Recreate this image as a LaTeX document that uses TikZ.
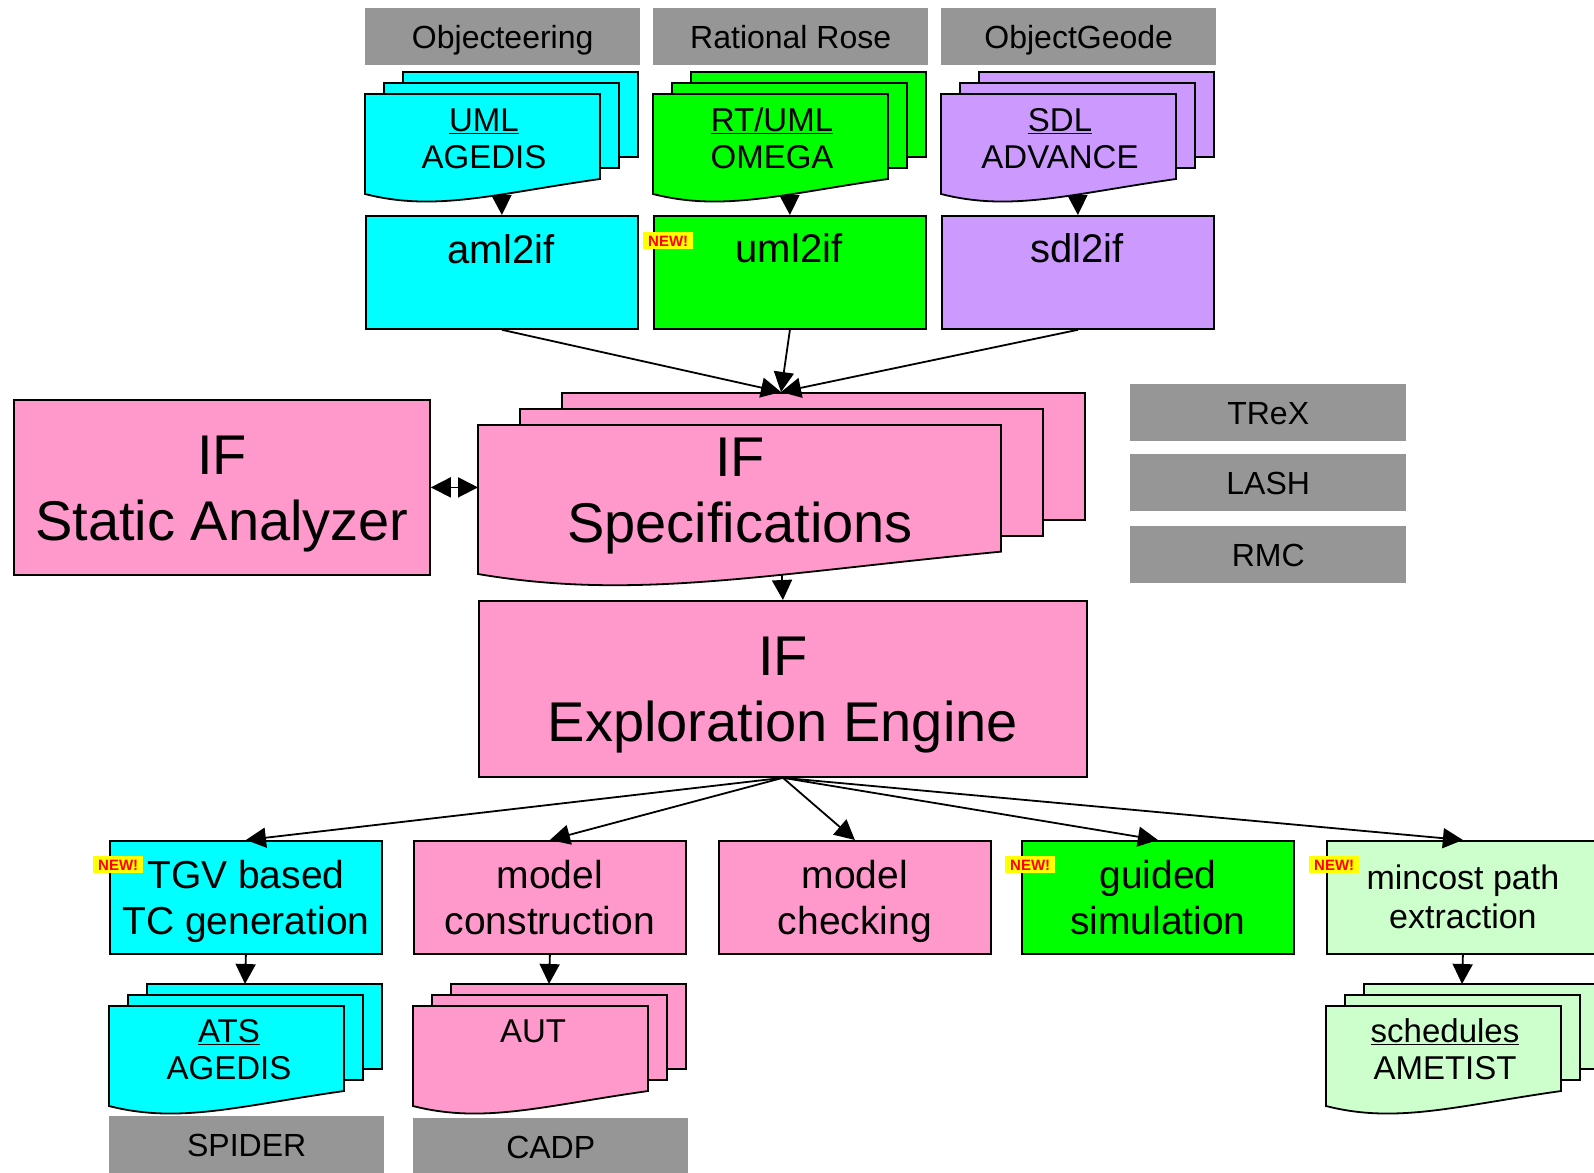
\documentclass[tikz,border=0pt]{standalone}
\usepackage{fontspec}
\setmainfont{Liberation Sans}
\usetikzlibrary{arrows.meta,calc}
\definecolor{cyanc}{HTML}{00FFFF}
\definecolor{greenc}{HTML}{00FF00}
\definecolor{lavc}{HTML}{CC99FF}
\definecolor{pinkc}{HTML}{FF99CC}
\definecolor{lgreenc}{HTML}{CCFFCC}
\definecolor{grayc}{HTML}{969696}
\definecolor{badgey}{HTML}{FFFF00}
\definecolor{badger}{HTML}{FF0000}
\newcommand{\szbig}{\fontsize{56}{66}\selectfont}
\newcommand{\szbox}{\fontsize{39}{46}\selectfont}
\newcommand{\szmin}{\fontsize{34}{39}\selectfont}
\newcommand{\sztool}{\fontsize{40}{48}\selectfont}
\newcommand{\szdoc}{\fontsize{33}{37}\selectfont}
\newcommand{\szgray}{\fontsize{32}{38}\selectfont}
\newcommand{\szbadge}{\fontsize{15}{15}\selectfont}
% x y W H dx dy color
\newcommand{\docstack}[7]{%
  \foreach \k in {2,1}{\draw[docline,fill=#7] ({#1+\k*#5},{#2+\k*#6}) rectangle ++(#3,{0.85*#4});}
  \draw[docline,fill=#7] (#1,#2) -- ++(#3,0) -- ++(0,{0.85*#4}) .. controls ({#1+0.55*#3},{#2+#4}) and ({#1+0.3*#3},{#2+1.18*#4}) .. (#1,{#2+#4}) -- cycle;}
\begin{document}
\begin{tikzpicture}[x=1pt,y=-1pt,line join=miter,
  box/.style={draw=black,line width=1.8pt,minimum width=272pt,minimum height=113pt,anchor=north west,inner sep=0pt,align=center},
  bigtext/.style={font=\szbig,text height=40pt,text depth=0pt},
  bigtwo/.style={font=\szbig,text height=106pt,text depth=0pt},
  boxtext/.style={font=\szbox,text height=74pt,text depth=0pt},
  mintext/.style={font=\szmin,text height=63pt,text depth=0pt},
  graybox/.style={fill=grayc,minimum width=275pt,minimum height=57pt,anchor=north west,inner sep=0pt,font=\szgray,text height=23pt,text depth=0pt},
  docline/.style={draw=black,line width=1.8pt},
  arr/.style={line width=1.8pt,-{Triangle[width=20pt,length=20pt]}},
  dblarr/.style={line width=1.8pt,{Triangle[width=20pt,length=20pt]}-{Triangle[width=20pt,length=20pt]}},
  newbadge/.style={fill=badgey,text=badger,font=\bfseries\szbadge,inner sep=0pt,anchor=north west,minimum width=50pt,minimum height=17pt,text height=11pt,text depth=0pt},
  lbl/.style={inner sep=0pt,align=center,text depth=0pt},
  doctext/.style={lbl,font=\szdoc,text height=24pt},
  tooltext/.style={lbl,font=\sztool,text height=29pt}]
\clip (0,0) rectangle (1594,1172);
\fill[white] (0,0) rectangle (1594,1172);

% headers
\node[graybox] (hobj) at (365,8) {Objecteering};
\node[graybox] (hrat) at (653,8) {Rational Rose};
\node[graybox] (hgeo) at (941,8) {ObjectGeode};

% translators
\node[box,fill=cyanc] (aml) at (365,215) {};
\node[box,fill=greenc] (uml) at (653,215) {};
\node[box,fill=lavc] (sdl) at (941,215) {};
\node[tooltext] (amlt) at (501,249) {aml2if};
\node[tooltext] (umlt) at (789,248) {uml2if};
\node[tooltext] (sdlt) at (1077,248) {sdl2if};

\coordinate (d1) at (501,170);
\coordinate (d2) at (789,170);
\coordinate (d3) at (1077,170);
\draw[arr] (d1) -- (aml.north);
\draw[arr] (d2) -- (uml.north);
\draw[arr] (d3) -- (sdl.north);

% source documents
\docstack{365}{94}{235}{100}{19}{-11}{cyanc}
\docstack{653}{94}{235}{100}{19}{-11}{greenc}
\docstack{941}{94}{235}{100}{19}{-11}{lavc}
\node[doctext] (t1a) at (484,119) {\underline{UML}};
\node[doctext] (t1b) at (484,156) {AGEDIS};
\node[doctext] (t2a) at (772,119) {\underline{RT/UML}};
\node[doctext] (t2b) at (772,156) {OMEGA};
\node[doctext] (t3a) at (1060,119) {\underline{SDL}};
\node[doctext] (t3b) at (1060,156) {ADVANCE};

\node[newbadge] (new1) at (643,232) {NEW!};

% middle
\node[box,fill=pinkc,minimum width=416pt,minimum height=175pt,bigtwo] (sa) at (13,399) {IF\\Static Analyzer};
\node[box,fill=pinkc,minimum width=608pt,minimum height=176pt,bigtwo] (eng) at (478,600) {IF\\Exploration Engine};

\coordinate (specbot) at (781,555);
\draw[arr] (specbot) -- (eng.north);

\docstack{478}{425}{523}{149}{42}{-16}{pinkc}
\node[lbl,bigtext] (spa) at (740,456) {IF};
\node[lbl,bigtext] (spb) at (740,522) {Specifications};

\coordinate (spectop) at (781,392);
\coordinate (specl) at (478,487);
\draw[arr] (aml.south) -- (spectop);
\draw[arr] (uml.south) -- (spectop);
\draw[arr] (sdl.south) -- (spectop);
\draw[dblarr] (sa.east) -- (sa.east -| specl);

% right tools
\node[graybox,minimum width=276pt] (trex) at (1130,384) {TReX};
\node[graybox,minimum width=276pt] (lash) at (1130,454) {LASH};
\node[graybox,minimum width=276pt] (rmc) at (1130,526) {RMC};

% bottom boxes
\node[box,fill=cyanc,boxtext] (tgv) at (109,840) {TGV based\\TC generation};
\node[box,fill=pinkc,boxtext] (mc) at (413,840) {model\\construction};
\node[box,fill=pinkc,boxtext] (mchk) at (718,840) {model\\checking};
\node[box,fill=greenc,boxtext] (gs) at (1021,840) {guided\\simulation};
\node[box,fill=lgreenc,mintext] (mp) at (1326,840) {mincost path\\extraction};

\draw[arr] (eng.south) -- (tgv.north);
\draw[arr] (eng.south) -- (mc.north);
\draw[arr] (eng.south) -- (mchk.north);
\draw[arr] (eng.south) -- (gs.north);
\draw[arr] (eng.south) -- (mp.north);

\node[newbadge] (new2) at (93,856) {NEW!};
\node[newbadge] (new3) at (1005,856) {NEW!};
\node[newbadge] (new4) at (1309,856) {NEW!};

% bottom documents
\coordinate (b1) at (245,984);
\coordinate (b2) at (549,984);
\coordinate (b3) at (1462,984);
\draw[arr] (tgv.south) -- (b1);
\draw[arr] (mc.south) -- (b2);
\draw[arr] (mp.south) -- (b3);
\docstack{109}{1006}{235}{100}{19}{-11}{cyanc}
\docstack{413}{1006}{235}{100}{19}{-11}{pinkc}
\docstack{1326}{1006}{235}{100}{19}{-11}{lgreenc}
\node[doctext] (b1a) at (229,1030) {\underline{ATS}};
\node[doctext] (b1b) at (229,1067) {AGEDIS};
\node[doctext] (b2a) at (533,1030) {AUT};
\node[doctext] (b3a) at (1445,1030) {\underline{schedules}};
\node[doctext] (b3b) at (1445,1067) {AMETIST};

\node[graybox] (spider) at (109,1116) {SPIDER};
\node[graybox] (cadp) at (413,1118) {CADP};
\end{tikzpicture}
\end{document}
